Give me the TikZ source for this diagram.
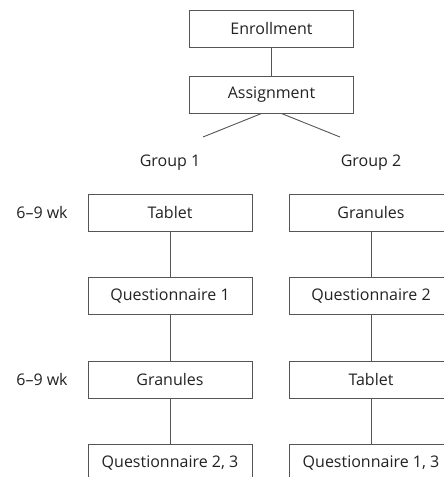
\documentclass[tikz,border=0pt]{standalone}
\usepackage{fontspec}
\setmainfont{Open Sans}
\usepackage{tikz}
\usetikzlibrary{positioning,calc}
\definecolor{cLine}{HTML}{555555}
\definecolor{cText}{HTML}{222222}
\tikzset{
  flowbox/.style={draw=cLine,line width=1pt,minimum width=164pt,minimum height=37pt,
      inner sep=0pt,align=center,text=cText,font=\fontsize{16}{19}\selectfont},
  toplab/.style={text=cText,font=\fontsize{16}{19}\selectfont,inner sep=0pt},
  link/.style={draw=cLine,line width=0.9pt},
}
\newcommand{\flowstep}[4]{\node[flowbox] (#1) at (#2,#3) {#4};}

\begin{document}
\begin{tikzpicture}[x=1pt,y=-1pt]
  \clip (0,0) rectangle (444,477);

  \flowstep{enr}{271.5}{28.5}{Enrollment}
  \flowstep{asg}{271.5}{94.5}{Assignment}
  \draw[link] (enr) -- (asg);

  % the two arms
  \node[toplab] (gA) at (170,163) {Group 1};
  \node[toplab] (gB) at (371,163) {Group 2};
  \coordinate (armA) at (203,137);
  \coordinate (armB) at (340,137);
  \draw[link] ($(asg.south)+(-10,0)$) -- (armA);
  \draw[link] ($(asg.south)+(10,0)$) -- (armB);

  \flowstep{a1}{170}{212.5}{Tablet}
  \flowstep{a2}{170}{295.5}{Questionnaire 1}
  \flowstep{a3}{170}{379.5}{Granules}
  \flowstep{a4}{170}{462.5}{Questionnaire 2, 3}
  \flowstep{b1}{371}{212.5}{Granules}
  \flowstep{b2}{371}{295.5}{Questionnaire 2}
  \flowstep{b3}{371}{379.5}{Tablet}
  \flowstep{b4}{371}{462.5}{Questionnaire 1, 3}
  \draw[link] (a1) -- (a2) (a2) -- (a3) (a3) -- (a4);
  \draw[link] (b1) -- (b2) (b2) -- (b3) (b3) -- (b4);

  \node[toplab] (wk1) at (42,212.5) {6–9 wk};
  \node[toplab] (wk2) at (42,379.5) {6–9 wk};
\end{tikzpicture}
\end{document}
